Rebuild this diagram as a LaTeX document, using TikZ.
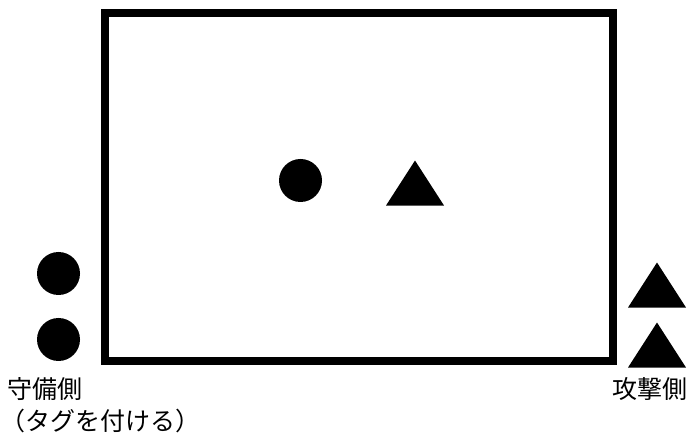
\documentclass[tikz,border=0pt]{standalone}
\usepackage{fontspec}
\newfontfamily\jpfont{Noto Sans CJK JP}
\usetikzlibrary{shapes.geometric}
\begin{document}
\begin{tikzpicture}[x=1pt, y=-1pt,
  every node/.style={font=\jpfont\fontsize{25}{30}\selectfont, inner sep=0},
  defender/.style={circle, fill, minimum size=43pt},
  attacker/.style={isosceles triangle, isosceles triangle stretches,
    shape border rotate=90, fill, minimum width=58pt, minimum height=45pt, anchor=apex}]
  \useasboundingbox (0,0) rectangle (688,435);
  % field
  \coordinate (NW) at (105,13); \coordinate (SE) at (613,361.5);
  \draw[line width=8pt] (NW) rectangle (SE);
  % players on the field
  \node[defender] (ball) at (300.5,180.5) {};
  \node[attacker] (tri) at (415,160) {};
  % waiting players
  \node[defender] (def1) at (58.5,273.5) {};
  \node[defender] (def2) at (58.5,339.5) {};
  \node[attacker] (att1) at (657,262) {};
  \node[attacker] (att2) at (657,322) {};
  % labels
  \node[anchor=base west] (deflabel) at (7,399) {守備側};
  \node[anchor=base west] (tagnote) at (0,430) {（タグを付ける）};
  \node[anchor=base east] (attlabel) at (688,399) {攻撃側};
\end{tikzpicture}
\end{document}
